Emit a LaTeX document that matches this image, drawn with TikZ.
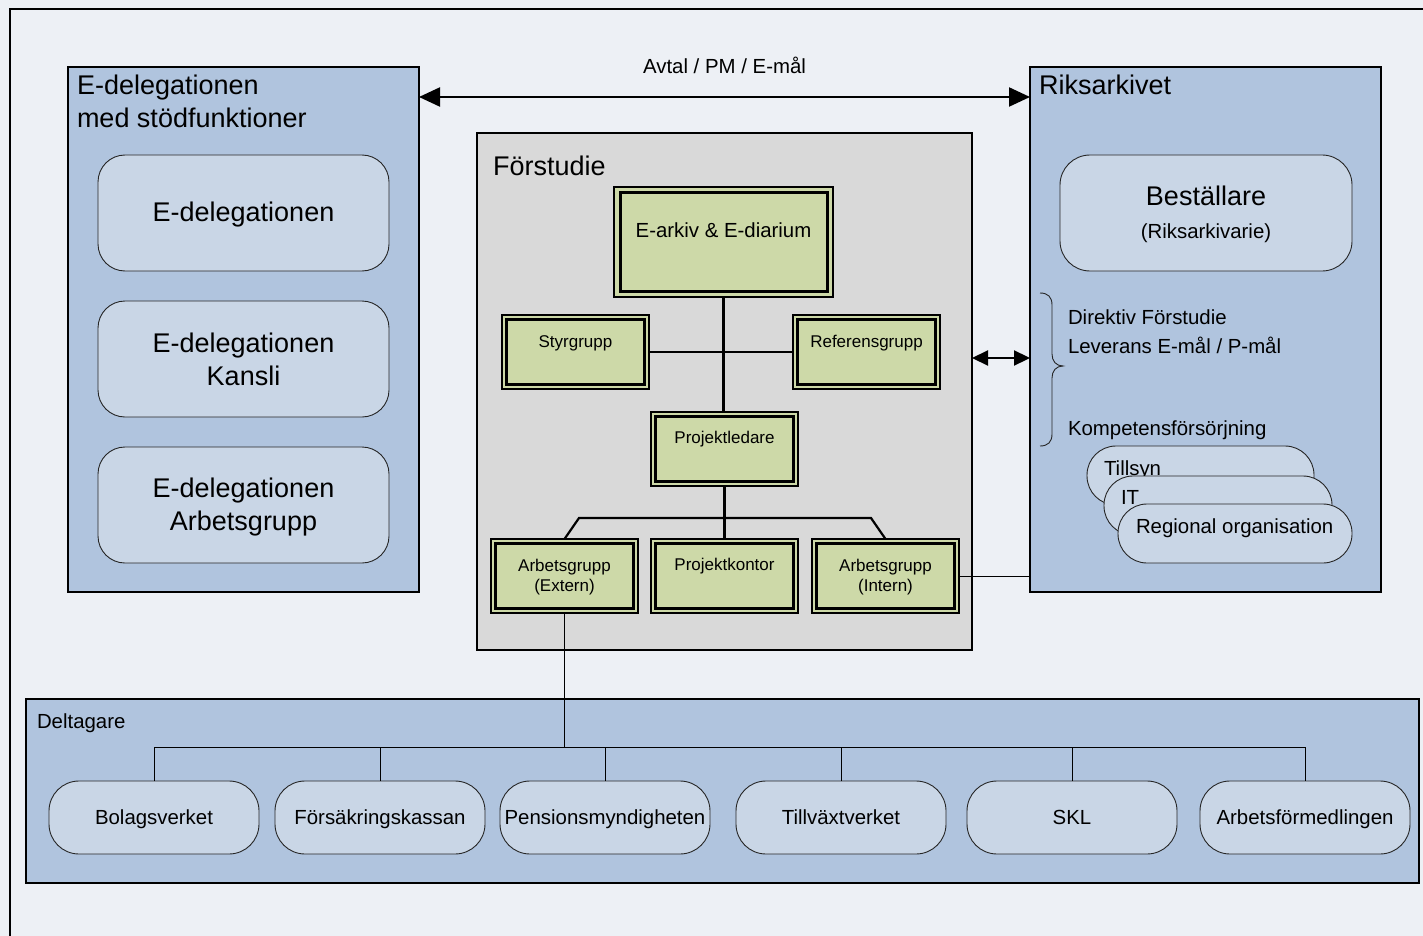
\documentclass[tikz,border=0pt]{standalone}
\usepackage{fontspec}
\setmainfont{Liberation Sans}
\usetikzlibrary{arrows.meta,calc}
\definecolor{bgc}{HTML}{EDF0F5}
\definecolor{bluep}{HTML}{B0C4DE}
\definecolor{pillc}{HTML}{C9D6E6}
\definecolor{greyp}{HTML}{D9D9D9}
\definecolor{gfill}{HTML}{CDD9A8}
\newcommand\FBig{\fontsize{27pt}{32pt}\selectfont}
\newcommand\FMid{\fontsize{20.4pt}{24pt}\selectfont}
\newcommand\FSm{\fontsize{17pt}{20pt}\selectfont}
\begin{document}
\begin{tikzpicture}[x=1pt,y=-1pt,
  bluepanel/.style={draw=black, line width=2.2pt, fill=bluep, inner sep=0pt, outer sep=0pt, anchor=north west},
  greypanel/.style={draw=black, line width=2.2pt, fill=greyp, inner sep=0pt, outer sep=0pt, anchor=north west},
  pillbox/.style={draw=black!85, line width=0.9pt, fill=pillc, inner sep=0pt, outer sep=0pt, anchor=north west, rounded corners=#1},
  pillbox/.default=28pt,
  gbox/.style={draw=black, line width=1.5pt, fill=gfill, inner sep=0pt, outer sep=0pt, anchor=north west,
    path picture={\draw[line width=3pt] ([shift={(#1,-#1)}]path picture bounding box.north west) rectangle ([shift={(-#1,#1)}]path picture bounding box.south east);}},
  gbox/.default=4.5pt,
  t/.style={inner sep=0pt, outer sep=0pt, anchor=base},
  tl/.style={inner sep=0pt, outer sep=0pt, anchor=base west},
  conn/.style={line width=2.2pt},
  thinconn/.style={line width=0.9pt},
  bigarrow/.style={line width=2.2pt, {Triangle[length=21pt,width=19pt]}-{Triangle[length=21pt,width=19pt]}},
  smallarrow/.style={line width=2.2pt, {Triangle[length=16pt,width=15pt]}-{Triangle[length=16pt,width=15pt]}}
]
\fill[bgc] (0,0) rectangle (1423,936);
\useasboundingbox (0,0) rectangle (1423,936);
\draw[line width=2.2pt] (1430,9) -- (10,9) -- (10,945);

% Left panel
\node[bluepanel, minimum width=351pt, minimum height=525pt] (edel) at (68,67) {};
\node[tl, font=\FBig] (edelt1) at (77,95) {E-delegationen};
\node[tl, font=\FBig] (edelt2) at (77,127.5) {med stödfunktioner};
\node[pillbox=27pt, minimum width=291pt, minimum height=116pt] (ed1) at (98,155) {};
\node[t, font=\FBig] (ed1t) at (243.5,221.5) {E-delegationen};
\node[pillbox=27pt, minimum width=291pt, minimum height=116pt] (ed2) at (98,301) {};
\node[t, font=\FBig] (ed2t1) at (243.5,352) {E-delegationen};
\node[t, font=\FBig] (ed2t2) at (243.5,385) {Kansli};
\node[pillbox=27pt, minimum width=291pt, minimum height=116pt] (ed3) at (98,447) {};
\node[t, font=\FBig] (ed3t1) at (243.5,497.5) {E-delegationen};
\node[t, font=\FBig] (ed3t2) at (243.5,530.5) {Arbetsgrupp};

% Centre panel
\node[greypanel, minimum width=495pt, minimum height=517pt] (forst) at (477,133) {};
\node[tl, font=\FBig] (forstt) at (493,176) {Förstudie};
\node[gbox=6pt, minimum width=219pt, minimum height=110pt] (earkiv) at (614,187) {};
\node[t, font=\FMid] (earkivt) at (723.5,237) {E-arkiv \& E-diarium};
\node[gbox, minimum width=147pt, minimum height=74pt] (styr) at (502,315) {};
\node[t, font=\FSm] (styrt) at (575.5,347) {Styrgrupp};
\node[gbox, minimum width=147pt, minimum height=74pt] (ref) at (793,315) {};
\node[t, font=\FSm] (reft) at (866.5,347) {Referensgrupp};
\node[gbox, minimum width=147pt, minimum height=74pt] (pl) at (651,412) {};
\node[t, font=\FSm] (plt) at (724.5,443) {Projektledare};
\node[gbox, minimum width=147pt, minimum height=74pt] (agext) at (491,539) {};
\node[t, font=\FSm] (agextt1) at (564.5,571) {Arbetsgrupp};
\node[t, font=\FSm] (agextt2) at (564.5,591) {(Extern)};
\node[gbox, minimum width=147pt, minimum height=74pt] (pk) at (651,539) {};
\node[t, font=\FSm] (pkt) at (724.5,570) {Projektkontor};
\node[gbox, minimum width=147pt, minimum height=74pt] (agint) at (812,539) {};
\node[t, font=\FSm] (agintt1) at (885.5,571) {Arbetsgrupp};
\node[t, font=\FSm] (agintt2) at (885.5,591) {(Intern)};

\draw[conn] (earkiv.south) -- (earkiv.south |- pl.north);
\draw[conn] (styr.east) -- (ref.west);
\draw[conn] (pl.south) -- (pl.south |- pk.north);
\draw[conn] (agext.north) -- ++(14.5,-21) -- ($(agint.north)+(-14.5,-21)$) -- (agint.north);

% Right panel
\node[bluepanel, minimum width=351pt, minimum height=525pt] (riks) at (1030,67) {};
\node[tl, font=\FBig] (rikst) at (1039,95) {Riksarkivet};
\node[pillbox=30pt, minimum width=292pt, minimum height=116pt] (best) at (1060,155) {};
\node[t, font=\FBig] (bestt1) at (1206,205) {Beställare};
\node[t, font=\FMid] (bestt2) at (1206,238) {(Riksarkivarie)};
\draw[line width=0.9pt, black!85] (1040,293) .. controls (1048,293) and (1052,297) .. (1052,305) -- (1052,354)
  .. controls (1052,361) and (1056,366) .. (1063,366)
  .. controls (1056,366) and (1052,371) .. (1052,378) -- (1052,434)
  .. controls (1052,442) and (1048,446) .. (1040,446);
\node[tl, font=\FMid] (dir) at (1068,324) {Direktiv Förstudie};
\node[tl, font=\FMid] (lev) at (1068,353) {Leverans E-mål / P-mål};
\node[tl, font=\FMid] (komp) at (1068,435) {Kompetensförsörjning};
\node[pillbox=29pt, minimum width=227pt, minimum height=59pt] (tills) at (1087,446) {};
\node[tl, font=\FMid] (tillst) at (1104,475) {Tillsyn};
\node[pillbox=29pt, minimum width=228pt, minimum height=59pt] (it) at (1104,476) {};
\node[tl, font=\FMid] (itt) at (1121,504) {IT};
\node[pillbox=29pt, minimum width=234pt, minimum height=59pt] (reg) at (1118,504) {};
\node[tl, font=\FMid] (regt) at (1136,533) {Regional organisation};

% Top arrow and side connectors
\coordinate (ay) at (0,97);
\draw[bigarrow] (edel.east |- ay) -- (riks.west |- ay);
\node[t, font=\FMid] (avtal) at (724.5,74) {Avtal / PM / E-mål};
\coordinate (dy) at (0,358);
\draw[smallarrow] (forst.east |- dy) -- (riks.west |- dy);
\draw[thinconn] (agint.east) -- (agint.east -| riks.west);

% Deltagare
\node[bluepanel, minimum width=1393pt, minimum height=184pt] (delt) at (26,699) {};
\node[tl, font=\FMid] (deltt) at (37,728) {Deltagare};
\foreach \nm/\xx/\lab in {bolag/49/Bolagsverket, fk/275/Försäkringskassan, pm/500/Pensionsmyndigheten, tv/736/Tillväxtverket, skl/967/SKL, af/1200/Arbetsförmedlingen}{
  \node[pillbox=30pt, minimum width=210pt, minimum height=73pt] (\nm) at (\xx,781) {};
  \node[t, font=\FMid] (\nm t) at ($(\nm.center)+(0,6.5)$) {\lab};
}
\coordinate (bar) at (0,747);
\draw[thinconn] (agext.south) -- (agext.south |- bar);
\draw[thinconn] (bolag.north) -- (bolag.north |- bar) -- (af.north |- bar) -- (af.north);
\foreach \nm in {fk,pm,tv,skl}{\draw[thinconn] (\nm.north) -- (\nm.north |- bar);}
\end{tikzpicture}
\end{document}
